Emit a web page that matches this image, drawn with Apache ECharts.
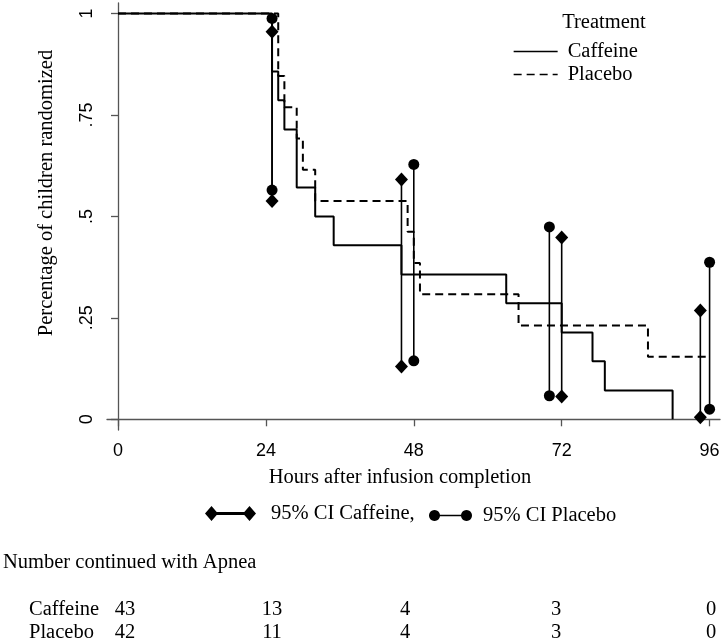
<!DOCTYPE html>
<html>
<head>
<meta charset="utf-8">
<script src="https://cdn.jsdelivr.net/npm/echarts@6/dist/echarts.min.js"></script>
<style>
html,body{margin:0;padding:0;background:#fff;}
#chart{width:723px;height:641px;}
</style>
</head>
<body>
<div id="chart"></div>
<script>
// ---- data ----
var caffeineTimes = [0, 25, 26, 27, 29, 32, 35, 46, 63, 72, 77, 79, 90];
var caffeineSurv  = [1, 0.857, 0.786, 0.714, 0.571, 0.5, 0.429, 0.357, 0.286, 0.214, 0.143, 0.071, 0];
var placeboTimes  = [0, 26, 27, 29, 30, 32, 47, 48, 49, 65, 86, 96];
var placeboSurv   = [1, 0.846, 0.769, 0.692, 0.615, 0.538, 0.462, 0.385, 0.308, 0.231, 0.154, 0.154];

var ciCaffeineTimes = [25, 46, 72, 94.5];
var ciCaffeineLow   = [0.538, 0.13, 0.056, 0.005];
var ciCaffeineHigh  = [0.955, 0.591, 0.448, 0.268];
var ciPlaceboTimes  = [25, 48, 70, 96];
var ciPlaceboLow    = [0.565, 0.144, 0.058, 0.025];
var ciPlaceboHigh   = [0.988, 0.628, 0.474, 0.387];

var xTicks = [0, 24, 48, 72, 96];
var yTicks = [0, 0.25, 0.5, 0.75, 1];
var yTickLabels = ['0', '.25', '.5', '.75', '1'];

var atRiskHours = [0, 24, 48, 72, 96];
var caffeineAtRisk = [43, 13, 4, 3, 0];
var placeboAtRisk  = [42, 11, 4, 3, 0];

// ---- layout ----
var SERIF = '"Liberation Serif", "Times New Roman", serif';
var SANS = '"Liberation Sans", Arial, sans-serif';
var tableColX = [125, 272, 405, 556, 711];

function pairs(xs, ys) { return xs.map(function (x, i) { return [x, ys[i]]; }); }
function ciData(ts, lo, hi) {
  var d = [];
  ts.forEach(function (t, i) { d.push([t, lo[i]]); d.push([t, hi[i]]); d.push([t, '-']); });
  return d;
}
function polyCircle(cx, cy, r, n) {
  var s = '';
  for (var k = 0; k < n; k++) {
    var a = 2 * Math.PI * k / n;
    s += (k === 0 ? 'M' : 'L') + (cx + r * Math.cos(a)).toFixed(2) + ',' + (cy + r * Math.sin(a)).toFixed(2);
  }
  return s + 'Z';
}
var placeboIcon = 'path://' + polyCircle(5.5, 5.5, 5.5, 24) + ' M5,4.75L38,4.75L38,6.25L5,6.25Z ' + polyCircle(37.5, 5.5, 5.5, 24);
var caffeineIcon = 'path://M0,7.5L6.5,0L13,7.5L6.5,15Z M6,6L45,6L45,9L6,9Z M38,7.5L44.5,0L51,7.5L44.5,15Z';

var chart = echarts.init(document.getElementById('chart'), null, {renderer: 'canvas'});

function txt(t, x, y, align) {
  return {type: 'text', style: {text: t, x: x, y: y, font: '20.5px ' + SERIF, fill: '#000', textAlign: align || 'center', textVerticalAlign: 'middle'}};
}
var graphics = [
  txt('Treatment', 604, 23),
  txt('Hours after infusion completion', 400, 478),
  {type: 'text', rotation: Math.PI / 2, x: 47, y: 193, style: {text: 'Percentage of children randomized', x: 0, y: 0, font: '20.5px ' + SERIF, fill: '#000', textAlign: 'center', textVerticalAlign: 'middle'}},
  txt('Number continued with Apnea', 3, 563, 'left'),
  txt('Caffeine', 29, 610, 'left'),
  txt('Placebo', 29, 633, 'left')
];
atRiskHours.forEach(function (h, i) {
  graphics.push(txt(String(caffeineAtRisk[i]), tableColX[i], 610));
  graphics.push(txt(String(placeboAtRisk[i]), tableColX[i], 633));
});

var axisColor = '#555';

var option = {
  backgroundColor: '#fff',
  animation: false,
  grid: {left: 107, right: 3, top: 3, bottom: 211, containLabel: false},
  xAxis: {
    type: 'value', min: -1.785, max: 97.69,
    axisLine: {show: true, lineStyle: {color: axisColor, width: 1.3}},
    axisTick: {show: true, length: 7, customValues: xTicks, lineStyle: {color: axisColor, width: 1.3}},
    axisLabel: {customValues: xTicks, margin: 12, color: '#000', fontSize: 18, fontFamily: SANS},
    splitLine: {show: false}
  },
  yAxis: {
    type: 'value', min: -0.0264, max: 1.0259,
    axisLine: {show: true, lineStyle: {color: axisColor, width: 1.3}},
    axisTick: {show: true, length: 7, customValues: yTicks, lineStyle: {color: axisColor, width: 1.3}},
    axisLabel: {customValues: yTicks, rotate: 90, margin: 11, color: '#000', fontSize: 18, fontFamily: SANS,
      formatter: function (v) { var i = yTicks.indexOf(v); return i >= 0 ? yTickLabels[i] : ''; }},
    splitLine: {show: false}
  },
  legend: [
    {
      data: ['Caffeine', 'Placebo'], orient: 'vertical', left: 508, top: 36,
      itemWidth: 44, itemHeight: 14, itemGap: 2,
      textStyle: {fontFamily: SERIF, fontSize: 20.5, color: '#000', lineHeight: 20, padding: [0, 0, 0, 5]},
      lineStyle: {width: 1.3},
      itemStyle: {opacity: 0}
    },
    {
      data: [{name: '95% CI Caffeine,', icon: caffeineIcon}],
      left: 200, top: 498, itemWidth: 51, itemHeight: 15,
      textStyle: {fontFamily: SERIF, fontSize: 20.5, color: '#000', padding: [0, 0, 0, 10]}
    },
    {
      data: [{name: '95% CI Placebo', icon: placeboIcon}],
      left: 424, top: 500, itemWidth: 43, itemHeight: 11,
      textStyle: {fontFamily: SERIF, fontSize: 20.5, color: '#000', padding: [0, 0, 0, 6]}
    }
  ],
  series: [
    {
      name: 'Caffeine', type: 'line', step: 'end', data: pairs(caffeineTimes, caffeineSurv),
      symbol: 'none', color: '#000', lineStyle: {color: '#000', width: 2}, z: 3
    },
    {
      name: 'Placebo', type: 'line', step: 'end', data: pairs(placeboTimes, placeboSurv),
      symbol: 'none', color: '#000', lineStyle: {color: '#000', width: 2, type: [8, 5]}, z: 3
    },
    {
      name: '95% CI Caffeine,', type: 'line', data: ciData(ciCaffeineTimes, ciCaffeineLow, ciCaffeineHigh),
      connectNulls: false, symbol: 'diamond', symbolSize: [13, 14], showAllSymbol: true,
      color: '#000', itemStyle: {color: '#000'}, lineStyle: {color: '#000', width: 1.6}, z: 4
    },
    {
      name: '95% CI Placebo', type: 'line', data: ciData(ciPlaceboTimes, ciPlaceboLow, ciPlaceboHigh),
      connectNulls: false, symbol: 'circle', symbolSize: 11, showAllSymbol: true,
      color: '#000', itemStyle: {color: '#000'}, lineStyle: {color: '#000', width: 1.6}, z: 4
    }
  ],
  graphic: graphics
};
chart.setOption(option);
</script>
</body>
</html>
